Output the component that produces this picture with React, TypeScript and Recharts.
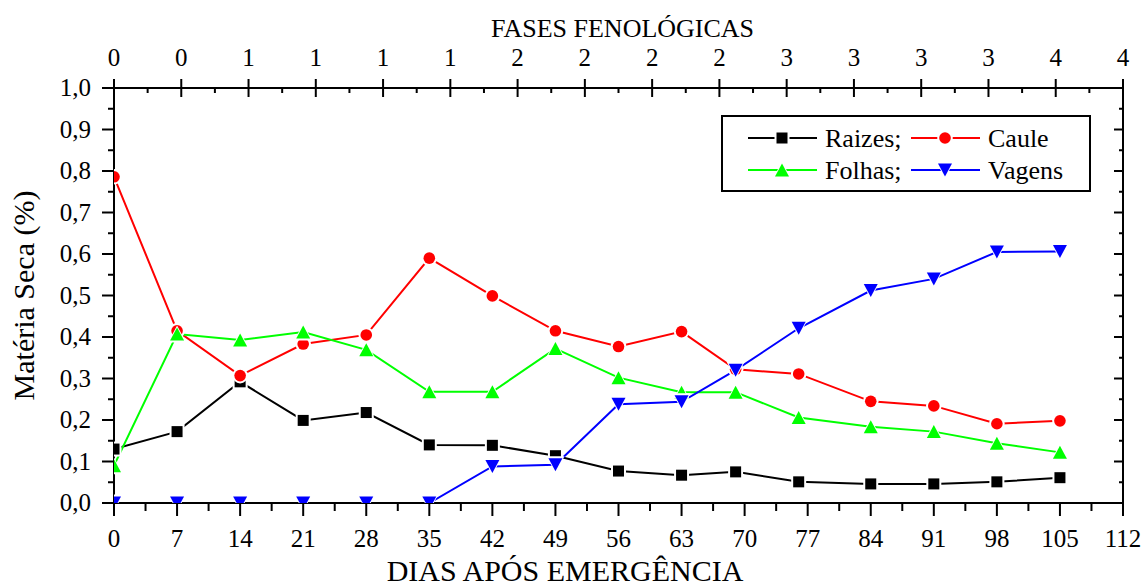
import { LineChart, Line, XAxis, YAxis, Legend } from 'recharts';

const FONT = "'Liberation Serif', 'DejaVu Serif', serif";

// dias após emergência (days of each sampling)
const dias = [0, 7, 14, 21, 28, 35, 42, 49, 56, 63, 69, 76, 84, 91, 98, 105];

// dry-matter share of each organ
const raizes = [0.13, 0.172, 0.292, 0.199, 0.218, 0.14, 0.139, 0.114, 0.077, 0.067, 0.075, 0.051, 0.046, 0.046, 0.051, 0.061];
const caule = [0.786, 0.415, 0.307, 0.383, 0.405, 0.59, 0.499, 0.415, 0.377, 0.413, 0.322, 0.311, 0.245, 0.234, 0.191, 0.198];
const folhas = [0.09, 0.407, 0.393, 0.412, 0.369, 0.268, 0.268, 0.372, 0.302, 0.267, 0.267, 0.206, 0.184, 0.172, 0.144, 0.122];
const vagens = [0, 0, 0, 0, 0, 0, 0.088, 0.092, 0.238, 0.244, 0.32, 0.421, 0.512, 0.54, 0.605, 0.606];

const diasTicks = [0, 7, 14, 21, 28, 35, 42, 49, 56, 63, 70, 77, 84, 91, 98, 105, 112];
const materiaTicks = [0, 0.1, 0.2, 0.3, 0.4, 0.5, 0.6, 0.7, 0.8, 0.9, 1.0];
const fasesTicks = [0, 0, 1, 1, 1, 1, 2, 2, 2, 2, 3, 3, 3, 3, 4, 4];

const rows = dias.map((dia, i) => ({
  dia,
  raizes: raizes[i],
  caule: caule[i],
  folhas: folhas[i],
  vagens: vagens[i],
}));

// majors on even indexes, one minor tick halfway between each pair
const withMinor = (major: number[]) =>
  major.flatMap((v, i) => (i < major.length - 1 ? [v, (v + major[i + 1]) / 2] : [v]));

const X_MAX = 112;
const bottomTicks = withMinor(diasTicks);
const sideTicks = withMinor(materiaTicks);
// phase ticks are spread evenly over the same span as the days axis
const faseStep = X_MAX / (fasesTicks.length - 1);
const topTicks = withMinor(fasesTicks.map((_, i) => i * faseStep));

// chart frame
const W = 1144;
const H = 585;
const LEFT_W = 114;
const RIGHT_W = 21;
const TOP_H = 88;
const BOTTOM_H = 82;
const plot = { x: LEFT_W, y: TOP_H, w: W - LEFT_W - RIGHT_W, h: H - TOP_H - BOTTOM_H };

type Shape = 'square' | 'circle' | 'up' | 'down';

const series: { key: string; name: string; color: string; shape: Shape }[] = [
  { key: 'raizes', name: 'Raizes;', color: '#000000', shape: 'square' },
  { key: 'caule', name: 'Caule', color: '#ff0000', shape: 'circle' },
  { key: 'folhas', name: 'Folhas;', color: '#00ff00', shape: 'up' },
  { key: 'vagens', name: 'Vagens', color: '#0000ff', shape: 'down' },
];

const drawShape = (shape: Shape, cx: number, cy: number, grow: number, fill: string) => {
  if (shape === 'square') {
    const h = 5.5 + grow;
    return <rect x={cx - h} y={cy - h} width={h * 2} height={h * 2} fill={fill} />;
  }
  if (shape === 'circle') {
    return <circle cx={cx} cy={cy} r={5.8 + grow} fill={fill} />;
  }
  const w = 7 + grow;
  const h = 6.5 + grow;
  const pts =
    shape === 'up'
      ? `${cx},${cy - h} ${cx - w},${cy + h} ${cx + w},${cy + h}`
      : `${cx},${cy + h} ${cx - w},${cy - h} ${cx + w},${cy - h}`;
  return <polygon points={pts} fill={fill} />;
};

// white halo leaves the small gap between line and symbol
const Marker = ({ shape, cx, cy, color }: { shape: Shape; cx: number; cy: number; color: string }) => (
  <g>
    {drawShape(shape, cx, cy, 2, '#ffffff')}
    {drawShape(shape, cx, cy, 0, color)}
  </g>
);

// symbols on the frame are cut by the plot area, like the lines
const ClippedMarker = (props: { shape: Shape; cx: number; cy: number; color: string }) => (
  <svg x={plot.x} y={plot.y} width={plot.w} height={plot.h} overflow="hidden">
    <g transform={`translate(${-plot.x} ${-plot.y})`}>
      <Marker {...props} />
    </g>
  </svg>
);

const tickText = { fontSize: 25, fill: '#000', style: { fontFamily: FONT } };

const BottomTick = ({ x, y, index, payload }: any) => {
  const major = index % 2 === 0;
  return (
    <g>
      <line x1={x} x2={x} y1={y} y2={y + (major ? 13 : 8)} stroke="#000" strokeWidth={2} />
      {major && (
        <text x={x} y={y + 44} textAnchor="middle" {...tickText}>
          {payload.value}
        </text>
      )}
    </g>
  );
};

const TopTick = ({ x, y, index }: any) => {
  const major = index % 2 === 0;
  return (
    <g>
      <line x1={x} x2={x} y1={major ? y - 9 : y} y2={y + (major ? 9 : 5)} stroke="#000" strokeWidth={2} />
      {major && (
        <text x={x} y={y - 22} textAnchor="middle" {...tickText}>
          {fasesTicks[index / 2]}
        </text>
      )}
    </g>
  );
};

const LeftTick = ({ x, y, index, payload }: any) => {
  const major = index % 2 === 0;
  return (
    <g>
      <line x1={x - (major ? 12 : 6)} x2={x} y1={y} y2={y} stroke="#000" strokeWidth={2} />
      {major && (
        <text x={x - 23} y={y + 8} textAnchor="end" {...tickText}>
          {Number(payload.value).toFixed(1).replace('.', ',')}
        </text>
      )}
    </g>
  );
};

const RightTick = ({ x, y, index }: any) => {
  const major = index % 2 === 0;
  return <line x1={x - (major ? 9 : 4)} x2={x} y1={y} y2={y} stroke="#000" strokeWidth={2} />;
};

const titleText = { fill: '#000', style: { fontFamily: FONT } };

const YTitle = ({ viewBox }: any) => {
  const tx = viewBox.x + 34;
  const ty = viewBox.y + viewBox.height / 2;
  return (
    <text x={tx} y={ty} transform={`rotate(-90 ${tx} ${ty})`} textAnchor="middle" fontSize={30} {...titleText}>
      Matéria Seca (%)
    </text>
  );
};

const BottomTitle = ({ viewBox }: any) => (
  <text x={viewBox.x + 451} y={viewBox.y + 78} textAnchor="middle" fontSize={30} {...titleText}>
    DIAS APÓS EMERGÊNCIA
  </text>
);

const TopTitle = ({ viewBox }: any) => (
  <text x={viewBox.x + viewBox.width / 2 + 4} y={viewBox.y + 37} textAnchor="middle" fontSize={26} {...titleText}>
    FASES FENOLÓGICAS
  </text>
);

// two columns: Raizes / Caule on the first row, Folhas / Vagens on the second
const LegendBox = () => (
  <svg width={370} height={77} style={{ display: 'block' }}>
    <rect x={1} y={1} width={368} height={75} fill="#fff" stroke="#000" strokeWidth={2} />
    {series.map((s, i) => {
      const x0 = 27 + (i % 2) * 163;
      const y = 23 + Math.floor(i / 2) * 32;
      return (
        <g key={s.key}>
          <line x1={x0} x2={x0 + 69} y1={y} y2={y} stroke={s.color} strokeWidth={2} />
          <Marker shape={s.shape} cx={x0 + 34} cy={y} color={s.color} />
          <text x={x0 + 77} y={y + 9} fontSize={26} {...titleText}>
            {s.name}
          </text>
        </g>
      );
    })}
  </svg>
);

export default function App() {
  return (
    <div style={{ width: W, height: H, background: '#fff', fontFamily: FONT }}>
      <style>{'body { margin: 0; }'}</style>
      <LineChart width={W} height={H} data={rows} margin={{ top: 0, right: 0, bottom: 0, left: 0 }}>
        <XAxis
          dataKey="dia"
          type="number"
          domain={[0, X_MAX]}
          allowDataOverflow
          ticks={bottomTicks}
          interval={0}
          height={BOTTOM_H}
          tickSize={0}
          tickMargin={0}
          tick={<BottomTick />}
          axisLine={{ stroke: '#000', strokeWidth: 2 }}
          label={{ content: <BottomTitle /> }}
        />
        <XAxis
          xAxisId="fases"
          dataKey="dia"
          orientation="top"
          type="number"
          domain={[0, X_MAX]}
          allowDataOverflow
          ticks={topTicks}
          tickCount={topTicks.length}
          interval={0}
          height={TOP_H}
          tickSize={0}
          tickMargin={0}
          tick={<TopTick />}
          axisLine={{ stroke: '#000', strokeWidth: 2 }}
          label={{ content: <TopTitle /> }}
        />
        <YAxis
          type="number"
          domain={[0, 1]}
          allowDataOverflow
          ticks={sideTicks}
          interval={0}
          width={LEFT_W}
          tickSize={0}
          tickMargin={0}
          tick={<LeftTick />}
          axisLine={{ stroke: '#000', strokeWidth: 2 }}
          label={{ content: <YTitle /> }}
        />
        <YAxis
          yAxisId="direita"
          orientation="right"
          type="number"
          domain={[0, 1]}
          allowDataOverflow
          ticks={sideTicks}
          interval={0}
          width={RIGHT_W}
          tickSize={0}
          tickMargin={0}
          tick={<RightTick />}
          axisLine={{ stroke: '#000', strokeWidth: 2 }}
        />
        <Legend
          layout="horizontal"
          verticalAlign="middle"
          align="center"
          content={<LegendBox />}
          wrapperStyle={{ position: 'absolute', left: 721, top: 115, width: 370, height: 77 }}
        />
        {series.map((s) => (
          <Line
            key={s.key}
            dataKey={s.key}
            name={s.name}
            type="linear"
            stroke={s.color}
            strokeWidth={2}
            isAnimationActive={false}
            activeDot={false}
            dot={(p: any) => (
              <ClippedMarker key={`${s.key}-${p.index}`} shape={s.shape} cx={p.cx} cy={p.cy} color={s.color} />
            )}
          />
        ))}
      </LineChart>
    </div>
  );
}
